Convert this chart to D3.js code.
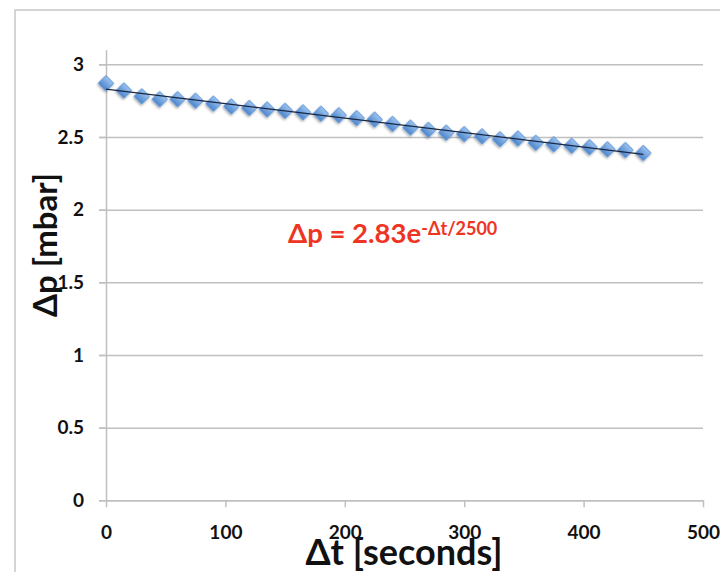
<!DOCTYPE html>
<html>
<head>
<meta charset="utf-8">
<script src="https://cdn.jsdelivr.net/npm/d3@7"></script>
<style>
  body { margin: 0; background: #fff; }
  svg { display: block; }
  .tick text { font-family: Lato, sans-serif; font-weight: bold; fill: #111; }
</style>
</head>
<body>
<svg id="chart" width="720" height="572"></svg>
<script>
// time steps (s) and measured pressure difference (mbar)
var times = [0, 15, 30, 45, 60, 75, 90, 105, 120, 135, 150, 165, 180, 195, 210, 225,
             240, 255, 270, 285, 300, 315, 330, 345, 360, 375, 390, 405, 420, 435, 450];
var dp = [2.87, 2.82, 2.78, 2.76, 2.76, 2.75, 2.73, 2.71, 2.70, 2.69, 2.68, 2.67, 2.66, 2.65, 2.63, 2.62,
          2.59, 2.565, 2.55, 2.53, 2.52, 2.505, 2.485, 2.49, 2.46, 2.45, 2.44, 2.43, 2.415, 2.41, 2.39];
// trend line ends
var trendT = [0, 450];
var trendP = [2.83, 2.38];

var xTicks = [0, 100, 200, 300, 400, 500];
var yTicks = [0, 0.5, 1, 1.5, 2, 2.5, 3];

var svg = d3.select("#chart");

var x = d3.scaleLinear().domain([0, 500]).range([106, 703]);
var y = d3.scaleLinear().domain([0, 3.1]).range([500.3, 49.8]);

// outer frame
svg.append("rect")
  .attr("x", 15).attr("y", 10)
  .attr("width", 730).attr("height", 600)
  .attr("fill", "none")
  .attr("stroke", "#c8c8c8")
  .attr("stroke-width", 1.5);

var defs = svg.append("defs");
var grad = defs.append("linearGradient")
  .attr("id", "dia").attr("x1", 0).attr("y1", 0).attr("x2", 0).attr("y2", 1);
grad.append("stop").attr("offset", "0%").attr("stop-color", "#9cc3f0");
grad.append("stop").attr("offset", "100%").attr("stop-color", "#4d86cc");
var shadow = defs.append("filter").attr("id", "shadow")
  .attr("x", "-50%").attr("y", "-50%").attr("width", "200%").attr("height", "200%");
shadow.append("feDropShadow")
  .attr("dx", 0.5).attr("dy", 1.5).attr("stdDeviation", 1.2)
  .attr("flood-color", "#000").attr("flood-opacity", 0.35);

// gridlines
var grid = svg.append("g")
  .attr("transform", "translate(" + x(0) + ",0)")
  .call(d3.axisLeft(y).tickValues(yTicks).tickSize(-(x(500) - x(0) + 7)).tickFormat(""));
grid.select(".domain").remove();
grid.selectAll(".tick line")
  .attr("transform", "translate(-7,0)")
  .attr("stroke", "#c0c0c0").attr("stroke-width", 1.5);

// y axis
var yAxis = svg.append("g")
  .attr("transform", "translate(" + x(0) + ",0)")
  .call(d3.axisLeft(y).tickValues(yTicks).tickSize(7).tickSizeOuter(0).tickPadding(15)
    .tickFormat(function(d) { return String(d); }));
yAxis.select(".domain").attr("stroke", "#c0c0c0").attr("stroke-width", 1.5);
yAxis.selectAll(".tick line").attr("stroke", "#c0c0c0").attr("stroke-width", 1.5);
yAxis.selectAll(".tick text").style("font-size", "19px");

// x axis
var xAxis = svg.append("g")
  .attr("transform", "translate(0," + y(0) + ")")
  .call(d3.axisBottom(x).tickValues(xTicks).tickSize(7).tickSizeOuter(0).tickPadding(18)
    .tickFormat(function(d) { return String(d); }));
xAxis.select(".domain").attr("stroke", "#c0c0c0").attr("stroke-width", 1.5);
xAxis.selectAll(".tick line").attr("stroke", "#c0c0c0").attr("stroke-width", 1.5);
xAxis.selectAll(".tick text").style("font-size", "19px");

// markers
var pts = times.map(function(t, i) { return {t: t, p: dp[i]}; });
svg.append("g").selectAll("path")
  .data(pts).enter()
  .append("path")
  .attr("d", d3.symbol().type(d3.symbolSquare).size(118))
  .attr("transform", function(d) { return "translate(" + x(d.t) + "," + y(d.p) + ") rotate(45)"; })
  .attr("fill", "url(#dia)")
  .attr("stroke", "#5a92d6")
  .attr("stroke-width", 0.8)
  .attr("filter", "url(#shadow)");

// trend line
var trend = trendT.map(function(t, i) { return [t, trendP[i]]; });
svg.append("path")
  .datum(trend)
  .attr("d", d3.line().x(function(d) { return x(d[0]); }).y(function(d) { return y(d[1]); }))
  .attr("fill", "none")
  .attr("stroke", "#1b2740")
  .attr("stroke-width", 1.3);

// fit formula
var fit = svg.append("text")
  .attr("x", 288).attr("y", 243)
  .attr("fill", "#ee3524")
  .style("font-family", "Lato, sans-serif")
  .style("font-weight", "bold")
  .style("font-size", "27.5px");
fit.append("tspan").text("Δp = 2.83e");
fit.append("tspan")
  .attr("dy", -8)
  .style("font-size", "18px")
  .text("-Δt/2500");

// axis titles
svg.append("text")
  .attr("x", 404).attr("y", 565)
  .attr("text-anchor", "middle")
  .attr("fill", "#111")
  .style("font-family", "Lato, sans-serif")
  .style("font-weight", "bold")
  .style("font-size", "36px")
  .text("Δt [seconds]");

svg.append("text")
  .attr("transform", "translate(57,245) rotate(-90)")
  .attr("text-anchor", "middle")
  .attr("fill", "#111")
  .style("font-family", "Lato, sans-serif")
  .style("font-weight", "bold")
  .style("font-size", "33px")
  .text("Δp [mbar]");
</script>
</body>
</html>
